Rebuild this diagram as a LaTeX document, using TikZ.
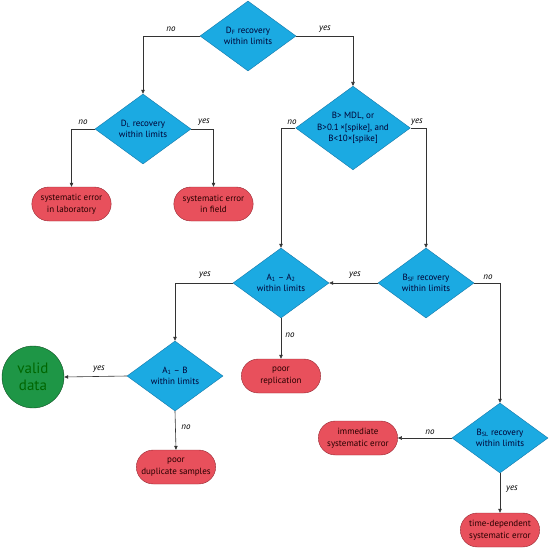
\documentclass[tikz,border=0pt]{standalone}
\usepackage{fontspec}
\setmainfont{PT Sans}
\usepackage{tikz}
\usetikzlibrary{positioning, arrows.meta, shapes.geometric, shapes.misc}
\definecolor{qblue}{RGB}{27,170,226}
\definecolor{qblueline}{RGB}{20,120,170}
\definecolor{qred}{RGB}{232,80,92}
\definecolor{qredline}{RGB}{150,40,50}
\definecolor{qgreen}{RGB}{30,150,70}
\definecolor{qgreenline}{RGB}{15,80,35}

\begin{document}
\begin{tikzpicture}[
        x=1pt, y=-1pt,
        test/.style   = {draw=qblueline, fill=qblue, diamond, aspect=1.37, inner sep=0pt, minimum width=96pt, minimum height=70pt, align=center, font=\fontsize{9}{11.5}\selectfont, text=black!80!blue},
        result/.style = {draw=qredline, fill=qred, rounded rectangle, minimum width=86pt, minimum height=34pt, align=center, font=\fontsize{9}{11.5}\selectfont, text=black!85!red},
        good/.style   = {draw=qgreenline, fill=qgreen, circle, minimum size=62pt, inner sep=0pt, align=center, font=\fontsize{15}{17}\selectfont, text=black!60!green},
        arrow/.style  = {-{Triangle[length=4pt, width=3.5pt]}, black!80, line width=0.6pt},
        ans/.style    = {font=\fontsize{9}{10}\selectfont\itshape, inner sep=1pt},
    ]
        \useasboundingbox (0,0) rectangle (550,549);

        % tests
        \node[test] (df)  at (248,36)  {D\textsubscript{F} recovery\\within limits};
        \node[test] (dl)  at (143,129) {D\textsubscript{L} recovery\\within limits};
        \node[test] (b)   at (353,128) {B> MDL, or\\B>0.1\,×[spike], and\\B<10×[spike]};
        \node[test] (a12) at (281,283) {A\textsubscript{1} – A\textsubscript{2}\\within limits};
        \node[test] (bsf) at (426,283) {B\textsubscript{SF} recovery\\within limits};
        \node[test] (a1b) at (175,376) {A\textsubscript{1} – B\\within limits};
        \node[test] (bsl) at (500,438) {B\textsubscript{SL} recovery\\within limits};

        % outcomes
        \node[result] (lab)   at (71.5,204)  {systematic error\\in laboratory};
        \node[result] (field) at (213.5,204) {systematic error\\in field};
        \node[result] (rep)   at (281,376)   {poor\\replication};
        \node[result] (dup)   at (176,467)   {poor\\duplicate samples};
        \node[result] (imm)   at (358,438)   {immediate\\systematic error};
        \node[result] (tdep)  at (500,530)   {time-dependent\\systematic error};
        \node[good]   (valid) at (33,377)    {valid\\data};

        % connectors
        \draw[arrow] (df.west) -| (dl.north);
        \draw[arrow] (df.east) -| (b.north);
        \draw[arrow] (dl.west) -| (lab.north);
        \draw[arrow] (dl.east) -| (field.north);
        \draw[arrow] (b.west) -| (a12.north);
        \draw[arrow] (b.east) -| (bsf.north);
        \draw[arrow] (bsf.west) -- (a12.east);
        \draw[arrow] (bsf.east) -| (bsl.north);
        \draw[arrow] (a12.west) -| (a1b.north);
        \draw[arrow] (a12.south) -- (rep.north);
        \draw[arrow] (a1b.west) -- (valid.east);
        \draw[arrow] (a1b.south) -- (dup.north);
        \draw[arrow] (bsl.west) -- (imm.east);
        \draw[arrow] (bsl.south) -- (tdep.north);

        % answers
        \node[ans] (n1)  at (171,29)  {no};
        \node[ans] (y1)  at (325,29)  {yes};
        \node[ans] (n2)  at (83,122)  {no};
        \node[ans] (y2)  at (204,122) {yes};
        \node[ans] (n3)  at (292,122) {no};
        \node[ans] (y3)  at (417,122) {yes};
        \node[ans] (y4)  at (205,275) {yes};
        \node[ans] (y5)  at (355,275) {yes};
        \node[ans] (n5)  at (488,277) {no};
        \node[ans] (n4)  at (290,335) {no};
        \node[ans] (y6)  at (99,369)  {yes};
        \node[ans] (n6)  at (186,427) {no};
        \node[ans] (n7)  at (430,432) {no};
        \node[ans] (y7)  at (512,489) {yes};
    \end{tikzpicture}
\end{document}
